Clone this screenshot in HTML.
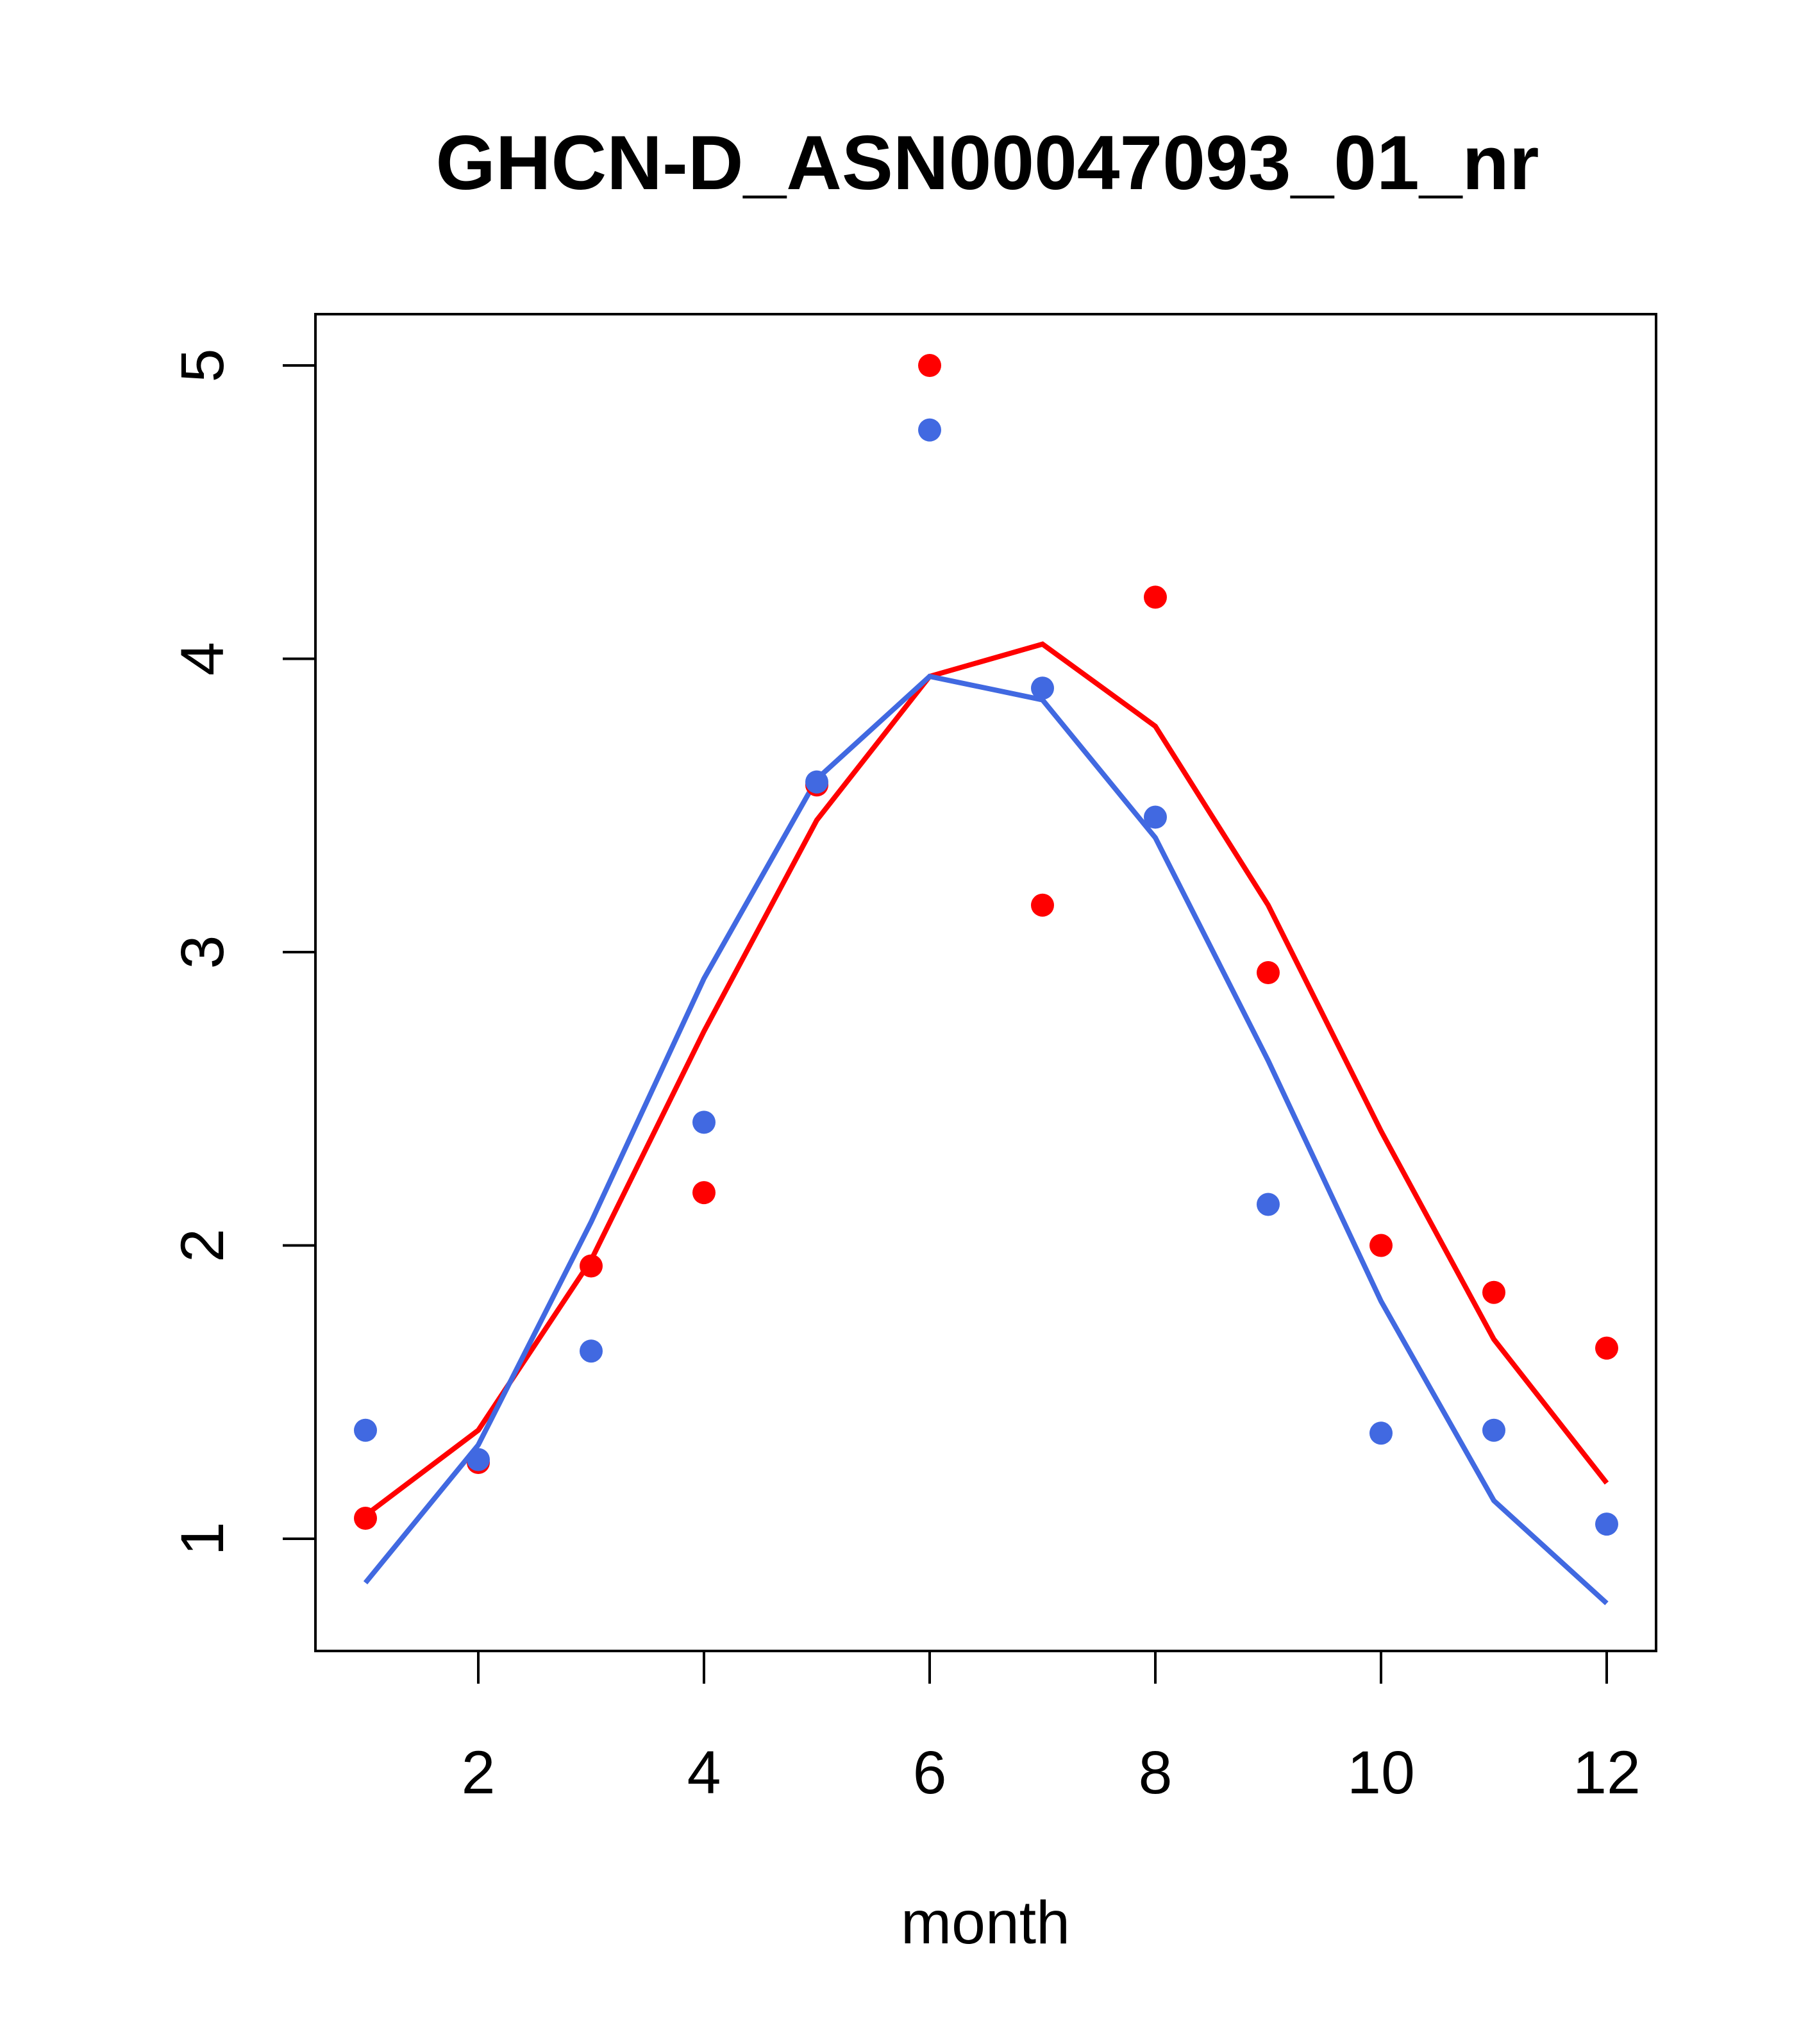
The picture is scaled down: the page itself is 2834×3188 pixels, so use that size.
<!DOCTYPE html>
<html><head><meta charset="utf-8"><style>html,body{margin:0;padding:0;background:#fff}svg{display:block}</style></head>
<body>
<svg id="chart" width="2834" height="3188" xmlns="http://www.w3.org/2000/svg" font-family="Liberation Sans, Arial, sans-serif">
<rect width="2834" height="3188" fill="#fff"/>
<text x="1540" y="295" font-size="120" font-weight="bold" text-anchor="middle">GHCN-D_ASN00047093_01_nr</text>
<rect x="492" y="490" width="2091" height="2085" fill="none" stroke="#000" stroke-width="4"/>
<text x="1537" y="3031" font-size="95" text-anchor="middle">month</text>
<g id="axes"></g>
<g id="marks"></g>
</svg>
<script>
const months=[1,2,3,4,5,6,7,8,9,10,11,12];
const redPoints=[1.07,1.26,1.93,2.18,3.57,5.0,3.16,4.21,2.93,2.0,1.84,1.65];
const bluePoints=[1.37,1.27,1.64,2.42,3.58,4.78,3.9,3.46,2.14,1.36,1.37,1.05];
const redLine=[1.08,1.37,1.95,2.73,3.45,3.94,4.05,3.77,3.16,2.39,1.68,1.19];
const blueLine=[0.85,1.32,2.08,2.91,3.59,3.94,3.86,3.39,2.63,1.81,1.13,0.78];
const xTicks=[2,4,6,8,10,12];
const yTicks=[1,2,3,4,5];
const NS="http://www.w3.org/2000/svg";
function xs(m){return 570+(m-1)*(2506-570)/11;}
function ys(v){return 2400-(v-1)*(2400-570)/4;}
function mk(tag,attrs,parent){const e=document.createElementNS(NS,tag);for(const k in attrs)e.setAttribute(k,attrs[k]);parent.appendChild(e);return e;}
const axes=document.getElementById('axes'),marks=document.getElementById('marks');
xTicks.forEach(t=>{
  const l=mk('line',{x1:xs(t),x2:xs(t),y1:2575,y2:2626,stroke:'#000','stroke-width':4},axes);
  
  
  const tx=mk('text',{x:xs(t),y:2797,'font-size':95,'text-anchor':'middle'},axes);tx.textContent=t;
  
  
});
yTicks.forEach(t=>{
  const l=mk('line',{x1:441,x2:492,y1:ys(t),y2:ys(t),stroke:'#000','stroke-width':4},axes);
  
  
  const tx=mk('text',{x:0,y:0,'font-size':95,'text-anchor':'middle',transform:`translate(348,${ys(t)}) rotate(-90)`},axes);tx.textContent=t;
  
  
});
function line(vals,color,name){
  const p=mk('polyline',{points:vals.map((v,i)=>xs(months[i])+','+ys(v)).join(' '),fill:'none',stroke:color,'stroke-width':8},marks);
  
  
}
function pts(vals,color,name){
  vals.forEach((v,i)=>{
    const c=mk('circle',{cx:xs(months[i]),cy:ys(v),r:18,fill:color},marks);
    
    
  });
}
line(redLine,'#ff0000','red-fit-line');
line(blueLine,'#4169e1','blue-fit-line');
pts(redPoints,'#ff0000','red-point');
pts(bluePoints,'#4169e1','blue-point');
</script>
</body></html>
